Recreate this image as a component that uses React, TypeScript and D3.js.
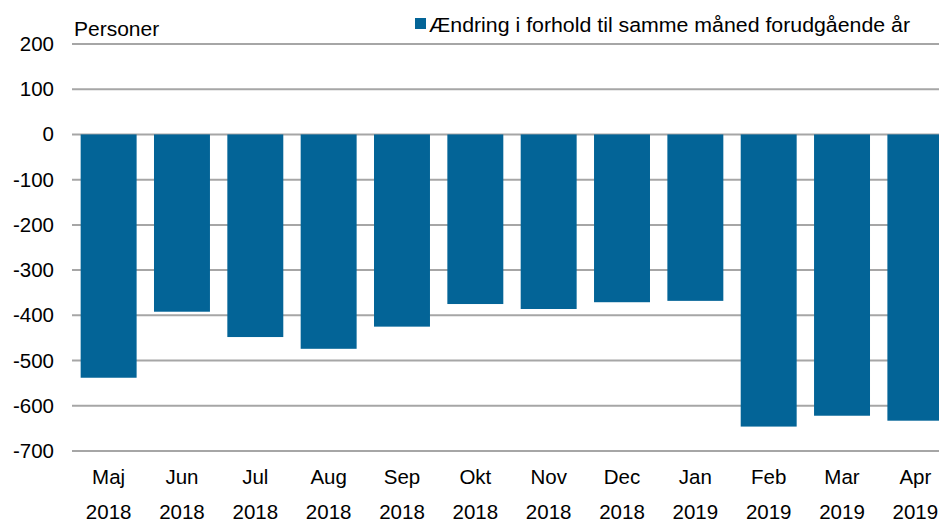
import { useEffect, useRef } from 'react';
import * as d3 from 'd3';

const months = ['Maj', 'Jun', 'Jul', 'Aug', 'Sep', 'Okt', 'Nov', 'Dec', 'Jan', 'Feb', 'Mar', 'Apr'];
const years = ['2018', '2018', '2018', '2018', '2018', '2018', '2018', '2018', '2019', '2019', '2019', '2019'];
const changes = [-538, -392, -448, -474, -425, -375, -386, -371, -368, -646, -622, -633];
const yTicks = [200, 100, 0, -100, -200, -300, -400, -500, -600, -700];

const seriesName = 'Ændring i forhold til samme måned forudgående år';
const unitLabel = 'Personer';

export default function App() {
	const svgRef = useRef<SVGSVGElement>(null);

	useEffect(() => {
		if (!svgRef.current) return;
		const width = 939;
		const height = 524;
		const font = 'Liberation Sans, Arial, sans-serif';

		d3.select(svgRef.current).selectAll('*').remove();
		const svg = d3.select(svgRef.current).attr('width', width).attr('height', height);

		// plot area runs a little past the right edge of the picture
		const left = 72;
		const right = 952;
		const yScale = d3.scaleLinear().domain([-700, 200]).range([451, 44]);

		const keys = months.map((m, i) => `${m} ${years[i]}`);
		const xScale = d3.scaleBand().domain(keys).range([left, right]).paddingInner(0.237).paddingOuter(0.118);

		// grid lines
		svg
			.append('g')
			.selectAll('line')
			.data(yTicks)
			.enter()
			.append('line')
			.attr('x1', left)
			.attr('x2', width)
			.attr('y1', (d) => yScale(d))
			.attr('y2', (d) => yScale(d))
			.attr('stroke', '#a6a6a6')
			.attr('stroke-width', 2);

		// y tick labels
		svg
			.append('g')
			.selectAll('text')
			.data(yTicks)
			.enter()
			.append('text')
			.attr('x', 54)
			.attr('y', (d) => yScale(d) + 7)
			.attr('text-anchor', 'end')
			.style('font-family', font)
			.style('font-size', '20.5px')
			.style('fill', '#000')
			.text((d) => String(d));

		// bars
		svg
			.append('g')
			.selectAll('rect')
			.data(changes)
			.enter()
			.append('rect')
			.attr('x', (_, i) => xScale(keys[i]) || 0)
			.attr('y', (d) => yScale(Math.max(0, d)))
			.attr('width', xScale.bandwidth())
			.attr('height', (d) => Math.abs(yScale(d) - yScale(0)))
			.attr('fill', '#036497');

		// x labels (month + year)
		const xl = svg.append('g');
		keys.forEach((k, i) => {
			const cx = (xScale(k) || 0) + xScale.bandwidth() / 2;
			xl.append('text')
				.attr('x', cx)
				.attr('y', 484)
				.attr('text-anchor', 'middle')
				.style('font-family', font)
				.style('font-size', '20.5px')
				.text(months[i]);
			xl.append('text')
				.attr('x', cx)
				.attr('y', 519)
				.attr('text-anchor', 'middle')
				.style('font-family', font)
				.style('font-size', '20.5px')
				.text(years[i]);
		});

		// unit label
		svg
			.append('text')
			.attr('x', 74)
			.attr('y', 36)
			.style('font-family', font)
			.style('font-size', '21px')
			.text(unitLabel);

		// legend
		svg.append('rect').attr('x', 415).attr('y', 18).attr('width', 11).attr('height', 11).attr('fill', '#036497');
		svg
			.append('text')
			.attr('x', 429)
			.attr('y', 32)
			.attr('textLength', 481)
			.attr('lengthAdjust', 'spacingAndGlyphs')
			.style('font-family', font)
			.style('font-size', '20.5px')
			.text(seriesName);
	}, []);

	return (
		<div style={{ position: 'absolute', left: 0, top: 0 }}>
			<svg ref={svgRef} style={{ display: 'block', background: '#fff' }}></svg>
		</div>
	);
}
